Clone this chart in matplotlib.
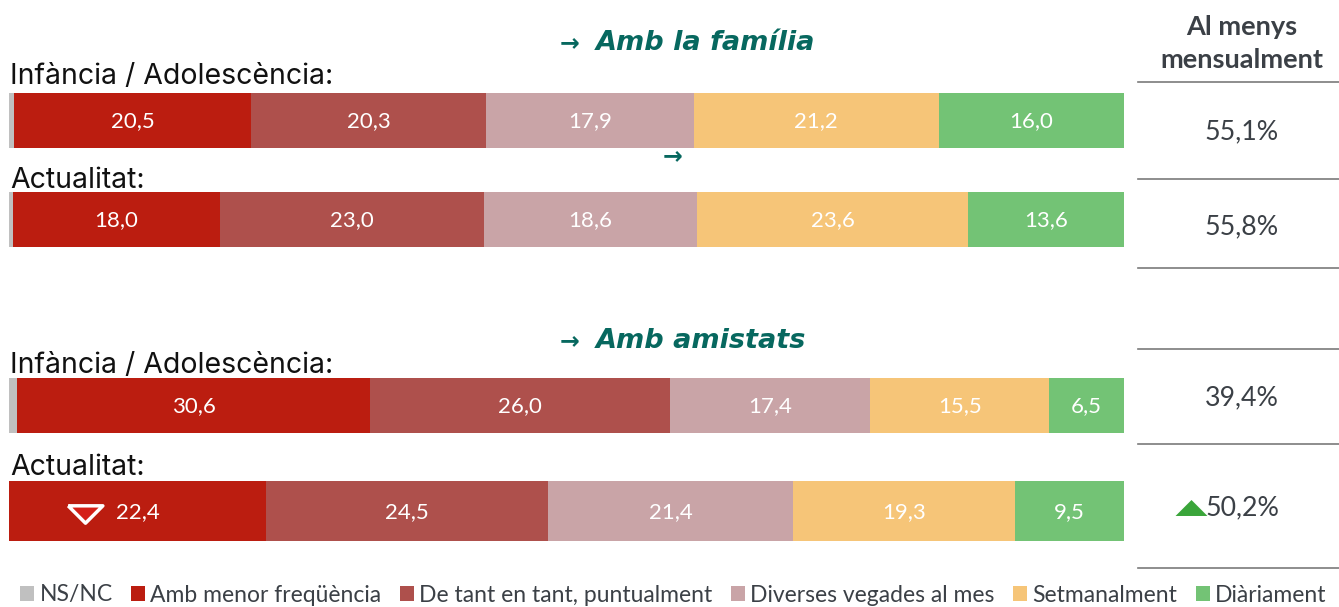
import matplotlib
matplotlib.use("Agg")
import matplotlib.pyplot as plt
from matplotlib.patches import Patch
import numpy as np

W, H = 1339, 607

categories = ["NS/NC", "Amb menor freqüència", "De tant en tant, puntualment",
              "Diverses vegades al mes", "Setmanalment", "Diàriament"]
colors = ["#c0c0c0", "#bb1d10", "#ae504c", "#c9a4a7", "#f6c578", "#73c375"]

row_labels = ["Infància / Adolescència:", "Actualitat:",
              "Infància / Adolescència:", "Actualitat:"]
nsnc = [0.45, 0.35, 0.7, 0.0]
menor = [20.5, 18.0, 30.6, 22.4]
tant = [20.3, 23.0, 26.0, 24.5]
diverses = [17.9, 18.6, 17.4, 21.4]
setmanal = [21.2, 23.6, 15.5, 19.3]
diari = [16.0, 13.6, 6.5, 9.5]
mensual = ["55,1%", "55,8%", "39,4%", "50,2%"]
section_titles = ["Amb la família", "Amb amistats"]

series = [nsnc, menor, tant, diverses, setmanal, diari]

# layout (pixels)
bar_y = [120.5, 219.5, 405.5, 511]
bar_h = [55, 55, 55, 60]
label_base = [84, 188, 373, 475]
val_y = [132, 227, 398, 508]

fig = plt.figure(figsize=(W / 100, H / 100), dpi=100)
ax = fig.add_axes([9 / W, 0, 1115 / W, 1])
ax.set_xlim(0, 100)
ax.set_ylim(H, 0)
ax.axis("off")

def fx(x):
    return x / W

def fy(y):
    return 1 - y / H

data = np.array(series)  # shape (6, 4)
totals = data.sum(axis=0)
norm = data / totals * 100
left = np.zeros(4)
for i, cat in enumerate(categories):
    ax.barh(bar_y, norm[i], left=left, height=bar_h, color=colors[i],
            edgecolor="none", label=cat)
    if i > 0:
        for r in range(4):
            cx = left[r] + norm[i, r] / 2
            txt = f"{series[i][r]:.1f}".replace(".", ",")
            ax.text(cx, bar_y[r] + 1, txt, ha="center", va="center",
                    color="white", fontsize=16, family="Lato")
    left = left + norm[i]

# decrease marker on row 4 first segment
cx4 = norm[0, 3] + norm[1, 3] / 2
tri = [(-1, 0.5), (1, 0.5), (0, -0.5), (-1, 0.5)]
ax.scatter([cx4 - 53 / 11.15], [bar_y[3] + 3], marker=tri, s=25 ** 2,
           facecolor="#d42018", edgecolor="white", linewidths=2.5, zorder=5)

# row labels
for r in range(4):
    fig.text(fx(10), fy(label_base[r]), row_labels[r], ha="left", va="baseline",
             fontsize=20.5, family="Inter", color="#111111")

# section titles
teal = "#07685f"
for (yb, t) in [(50, section_titles[0]), (348, section_titles[1])]:
    fig.text(fx(596), fy(yb), t, ha="left", va="baseline", fontsize=19.5,
             family="DejaVu Sans", weight="bold", style="italic", color=teal)
    fig.text(fx(570), fy(yb - 7), "→", ha="center", va="center", fontsize=17,
             family="DejaVu Sans", weight="bold", color=teal)
fig.text(fx(673), fy(156), "→", ha="center", va="center", fontsize=17,
         family="DejaVu Sans", weight="bold", color=teal)

# right column
dark = "#3b4046"
fig.text(fx(1242), fy(35), "Al menys", ha="center", va="baseline", fontsize=19.5,
         family="Lato", weight="bold", color=dark)
fig.text(fx(1242), fy(68), "mensualment", ha="center", va="baseline", fontsize=19.5,
         family="Lato", weight="bold", color=dark)
for yl in [82, 179, 268, 349, 444, 568]:
    fig.add_artist(plt.Line2D([fx(1138), fx(1339)], [fy(yl), fy(yl)],
                              color="#7a7a7a", lw=1.2))
for r in range(4):
    fig.text(fx(1242), fy(val_y[r]), mensual[r], ha="center", va="center",
             fontsize=19.3, family="Lato", color=dark)
# increase marker
ax2 = fig.add_axes([0, 0, 1, 1], facecolor="none")
ax2.set_xlim(0, W)
ax2.set_ylim(H, 0)
ax2.axis("off")
ax2.scatter([1191.5], [508], marker=[(-1, -0.5), (1, -0.5), (0, 0.5), (-1, -0.5)],
            s=23 ** 2, color="#3aa53a", edgecolor="none")

# legend
handles = [Patch(facecolor=c, edgecolor="none") for c in colors]
leg = fig.legend(handles, categories, loc="center left",
                 bbox_to_anchor=(fx(20), fy(595)), ncol=6, frameon=False,
                 handlelength=0.6, handleheight=0.6, handletextpad=0.25,
                 columnspacing=0.8, borderaxespad=0, borderpad=0,
                 prop={"family": "Lato", "size": 16.5})
for t in leg.get_texts():
    t.set_color(dark)

fig.savefig("out.png", dpi=100)
